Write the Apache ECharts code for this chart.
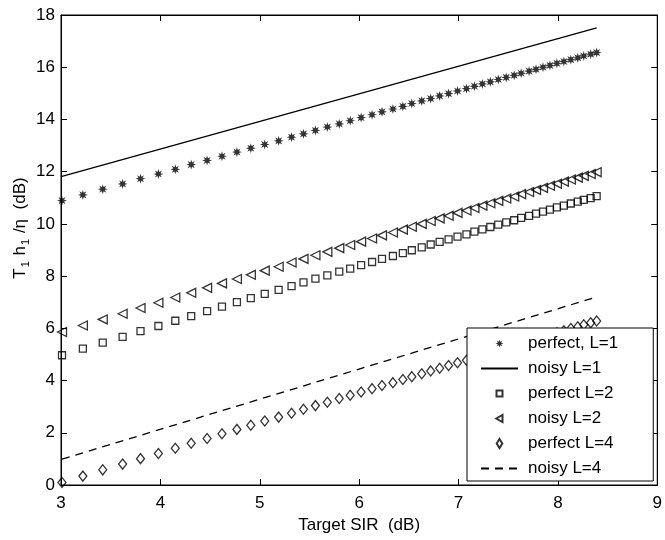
<!DOCTYPE html>
<html>
<head>
<meta charset="utf-8">
<script src="https://cdn.jsdelivr.net/npm/echarts@6/dist/echarts.min.js"></script>
<style>
  html, body { margin: 0; padding: 0; background: #fff; }
  #chart { width: 665px; height: 540px; }
</style>
</head>
<body>
<div id="chart"></div>
<script>
// Target SIR in dB (x positions of the marker series)
const sirDb = [3.01, 3.22, 3.42, 3.62, 3.80, 3.98, 4.15, 4.31, 4.47, 4.62,
  4.77, 4.91, 5.05, 5.19, 5.32, 5.44, 5.56, 5.68, 5.80, 5.91,
  6.02, 6.13, 6.23, 6.34, 6.44, 6.53, 6.63, 6.72, 6.81, 6.90,
  6.99, 7.08, 7.16, 7.24, 7.32, 7.40, 7.48, 7.56, 7.63, 7.71,
  7.78, 7.85, 7.92, 7.99, 8.06, 8.13, 8.20, 8.26, 8.33, 8.39]

const perfectL1 = [10.89, 11.11, 11.33, 11.53, 11.73, 11.91, 12.09, 12.27, 12.43, 12.59,
  12.75, 12.90, 13.04, 13.18, 13.32, 13.45, 13.58, 13.71, 13.83, 13.95,
  14.07, 14.18, 14.29, 14.40, 14.50, 14.61, 14.71, 14.80, 14.90, 14.99,
  15.09, 15.18, 15.27, 15.36, 15.44, 15.53, 15.61, 15.69, 15.77, 15.85,
  15.92, 16.00, 16.07, 16.15, 16.22, 16.29, 16.36, 16.43, 16.50, 16.56]

const perfectL2 = [4.97, 5.22, 5.45, 5.67, 5.89, 6.09, 6.29, 6.47, 6.66, 6.83,
  7.00, 7.16, 7.32, 7.47, 7.62, 7.76, 7.90, 8.03, 8.17, 8.29,
  8.42, 8.54, 8.66, 8.77, 8.88, 8.99, 9.10, 9.21, 9.31, 9.41,
  9.51, 9.60, 9.70, 9.79, 9.88, 9.97, 10.06, 10.14, 10.23, 10.31,
  10.39, 10.47, 10.55, 10.63, 10.70, 10.78, 10.85, 10.92, 10.99, 11.06]

const noisyL2 = [5.86, 6.11, 6.34, 6.56, 6.78, 6.98, 7.18, 7.36, 7.55, 7.72,
  7.89, 8.05, 8.21, 8.36, 8.52, 8.66, 8.80, 8.93, 9.07, 9.19,
  9.32, 9.44, 9.56, 9.67, 9.78, 9.89, 10.00, 10.11, 10.21, 10.31,
  10.42, 10.51, 10.61, 10.70, 10.79, 10.88, 10.97, 11.05, 11.14, 11.22,
  11.30, 11.38, 11.46, 11.54, 11.62, 11.70, 11.77, 11.84, 11.91, 11.98]

const perfectL4 = [0.10, 0.34, 0.58, 0.80, 1.01, 1.21, 1.41, 1.60, 1.78, 1.96,
  2.13, 2.29, 2.45, 2.60, 2.75, 2.90, 3.04, 3.17, 3.31, 3.44,
  3.56, 3.69, 3.81, 3.92, 4.04, 4.15, 4.26, 4.37, 4.47, 4.58,
  4.68, 4.78, 4.87, 4.97, 5.06, 5.15, 5.24, 5.33, 5.42, 5.50,
  5.59, 5.67, 5.75, 5.83, 5.91, 5.99, 6.06, 6.14, 6.21, 6.28]

// straight "noisy" curves, end points
const lineX = [3.01, 8.39]
const noisyL1 = [11.82, 17.51]
const noisyL4 = [0.99, 7.20]

const seriesNames = ['perfect, L=1', 'noisy L=1', 'perfect L=2', 'noisy L=2', 'perfect L=4', 'noisy L=4']

const FONT = '"Liberation Sans", Arial, Helvetica, sans-serif'
const starPath = 'path://M20 10 L14.16 11.72 L17.07 17.07 L11.72 14.16 L10 20 L8.28 14.16 L2.93 17.07 L5.84 11.72 L0 10 L5.84 8.28 L2.93 2.93 L8.28 5.84 L10 0 L11.72 5.84 L17.07 2.93 L14.16 8.28 Z'

// legend icons: the leading M points pad the 37x14 icon box so the marker stays small
const legendIcons = {
  star: 'path://M0 0 M37 14 M22.5 7 L20.16 7.69 L21.33 9.83 L19.19 8.66 L18.5 11 L17.81 8.66 L15.67 9.83 L16.84 7.69 L14.5 7 L16.84 6.31 L15.67 4.17 L17.81 5.34 L18.5 3 L19.19 5.34 L21.33 4.17 L20.16 6.31 Z',
  square: 'path://M0 0 M37 14 M15.5 4 L21.5 4 L21.5 10 L15.5 10 Z',
  triangle: 'path://M0 0 M37 14 M15.2 7 L21.5 3.4 L21.5 10.6 Z',
  diamond: 'path://M0 0 M37 14 M18.5 2.5 L21.3 7 L18.5 11.5 L15.7 7 Z'
}

function pairs(xs, ys) {
  return xs.map((x, i) => [x, ys[i]])
}

const chart = echarts.init(document.getElementById('chart'))

const openMarker = { color: 'transparent', borderColor: '#000', borderWidth: 1.3 }
const hiddenSymbol = { opacity: 0 }

const axisCommon = {
  axisLine: { show: true, onZero: false, lineStyle: { color: '#000', width: 1 } },
  axisTick: { show: true, inside: true, length: 6, lineStyle: { color: '#000' } },
  splitLine: { show: false }
}

const option = {
  animation: false,
  backgroundColor: '#fff',
  textStyle: { fontFamily: FONT, color: '#000' },
  grid: {
    left: 61, top: 15, width: 598, height: 470,
    show: true, borderColor: '#000', borderWidth: 1, backgroundColor: 'transparent'
  },
  xAxis: [
    {
      type: 'value', min: 3, max: 9, interval: 1,
      ...axisCommon,
      axisLabel: { color: '#000', fontSize: 17, fontFamily: FONT, margin: 10 },
      name: 'Target SIR  (dB)',
      nameLocation: 'middle',
      nameGap: 30,
      nameTextStyle: { color: '#000', fontSize: 17, fontFamily: FONT }
    },
    {
      type: 'value', min: 3, max: 9, interval: 1, position: 'top',
      ...axisCommon,
      axisLabel: { show: false }
    }
  ],
  yAxis: [
    {
      type: 'value', min: 0, max: 18, interval: 2,
      ...axisCommon,
      axisLabel: { color: '#000', fontSize: 17, fontFamily: FONT, margin: 6 }
    },
    {
      type: 'value', min: 0, max: 18, interval: 2, position: 'right',
      ...axisCommon,
      axisLabel: { show: false }
    }
  ],
  graphic: [
    {
      type: 'text',
      x: 20, y: 228,
      rotation: Math.PI / 2,
      style: {
        text: '{m|T}{s|1}{m| h}{s|1}{m| /η  (dB)}',
        align: 'center',
        verticalAlign: 'middle',
        rich: {
          m: { fontSize: 17, fontFamily: FONT, fill: '#000', lineHeight: 22 },
          s: { fontSize: 11, fontFamily: FONT, fill: '#000', lineHeight: 22, padding: [12, 1, 0, 1] }
        }
      }
    }
  ],
  legend: {
    orient: 'vertical',
    left: 467, top: 328,
    padding: [7, 35, 4, 13],
    itemWidth: 37,
    itemHeight: 14,
    itemGap: 8,
    symbolRotate: 0,
    backgroundColor: '#fff',
    borderColor: '#000',
    borderWidth: 1,
    borderRadius: 0,
    textStyle: { color: '#000', fontSize: 17, fontFamily: FONT, padding: [0, 0, 0, 5] },
    data: [
      { name: seriesNames[0], icon: legendIcons.star },
      { name: seriesNames[1], itemStyle: hiddenSymbol },
      { name: seriesNames[2], icon: legendIcons.square },
      { name: seriesNames[3], icon: legendIcons.triangle },
      { name: seriesNames[4], icon: legendIcons.diamond },
      { name: seriesNames[5], itemStyle: hiddenSymbol }
    ]
  },
  series: [
    {
      name: seriesNames[0], type: 'scatter',
      symbol: starPath, symbolSize: 10,
      itemStyle: { color: '#000' },
      data: pairs(sirDb, perfectL1)
    },
    {
      name: seriesNames[1], type: 'line',
      showSymbol: false, symbol: 'none',
      lineStyle: { color: '#000', width: 1.3 },
      itemStyle: { color: '#000' },
      data: pairs(lineX, noisyL1)
    },
    {
      name: seriesNames[2], type: 'scatter',
      symbol: 'rect', symbolSize: 7,
      itemStyle: openMarker,
      data: pairs(sirDb, perfectL2)
    },
    {
      name: seriesNames[3], type: 'scatter',
      symbol: 'triangle', symbolSize: 9, symbolRotate: 90,
      itemStyle: openMarker,
      data: pairs(sirDb, noisyL2)
    },
    {
      name: seriesNames[4], type: 'scatter',
      symbol: 'diamond', symbolSize: [8, 10],
      itemStyle: openMarker,
      data: pairs(sirDb, perfectL4)
    },
    {
      name: seriesNames[5], type: 'line',
      showSymbol: false, symbol: 'none',
      lineStyle: { color: '#000', width: 1.3, type: [8, 6] },
      itemStyle: { color: '#000' },
      data: pairs(lineX, noisyL4)
    }
  ]
}

chart.setOption(option)
</script>
</body>
</html>
